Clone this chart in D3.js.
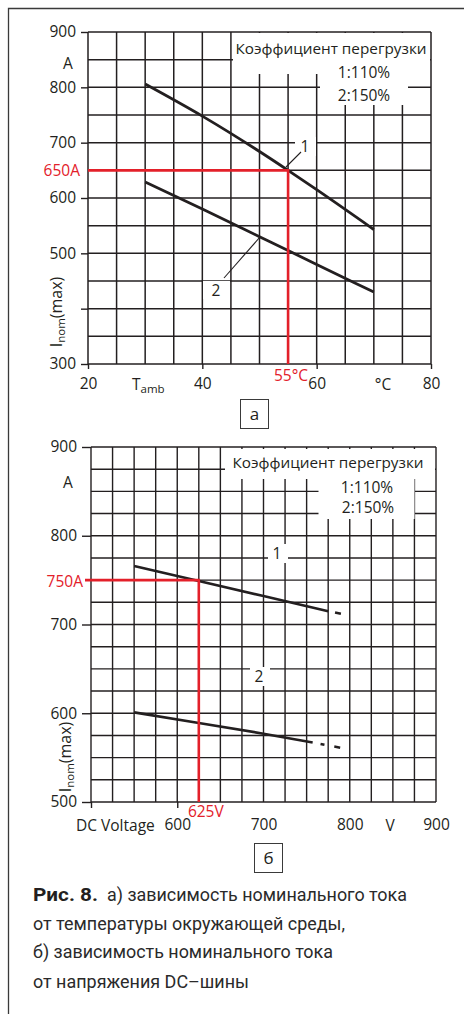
<!DOCTYPE html>
<html>
<head>
<meta charset="utf-8">
<script src="https://cdn.jsdelivr.net/npm/d3@7"></script>
<style>
  body { margin: 0; background: #fff; }
  text { font-family: "Open Sans", sans-serif; fill: #231f20; }
</style>
</head>
<body>
<div id="chart"></div>
<script>
// --- график а: ток от температуры ---
const tempTicks = [20, 40, 60, 80];
const currentTicksA = [900, 800, 700, 600, 500, 400, 300];
const tempX = [30, 40, 50, 55, 60, 70];
const curveA1 = [806, 748, 684, 650, 615, 543]; // 1:110%
const curveA2 = [629, 580, 530, 505, 480, 430]; // 2:150%
const markTemp = 55;
const markCurrentA = 650;

// --- график б: ток от напряжения DC ---
const voltTicks = [600, 700, 800, 900];
const currentTicksB = [900, 800, 700, 600, 500];
const voltX1 = [550, 625, 700, 775];
const curveB1 = [766, 749, 732, 715];
const voltX1Ext = [775, 790];
const curveB1Ext = [715, 712];
const voltX2 = [550, 625, 700, 757];
const curveB2 = [601, 589, 577, 567];
const voltX2Ext = [757, 790];
const curveB2Ext = [567, 561];
const markVolt = 625;
const markCurrentB = 750;

const red = "#e3202a";
const ink = "#231f20";
const fs = 15.5;

const svg = d3.select("#chart")
  .append("svg")
  .attr("width", 464)
  .attr("height", 1014);

// рамка
svg.append("path")
  .attr("d", "M8.5,1014V8.5H464")
  .attr("fill", "none")
  .attr("stroke", "#3a3a3a")
  .attr("stroke-width", 1.3);

const xA = d3.scaleLinear().domain([20, 80]).range([88, 431]);
const yA = d3.scaleLinear().domain([300, 900]).range([364, 32]);
const xB = d3.scaleLinear().domain([500, 900]).range([91, 436]);
const yB = d3.scaleLinear().domain([500, 900]).range([802, 447]);

// сетка
function drawGrid(g, x, y, xs, ys, w) {
  g.selectAll(".vg").data(xs).enter().append("line")
    .attr("x1", d => x(d)).attr("x2", d => x(d))
    .attr("y1", y.range()[0]).attr("y2", y.range()[1])
    .attr("stroke", ink).attr("stroke-width", w);
  g.selectAll(".hg").data(ys).enter().append("line")
    .attr("x1", x.range()[0]).attr("x2", x.range()[1])
    .attr("y1", d => y(d)).attr("y2", d => y(d))
    .attr("stroke", ink).attr("stroke-width", w);
}

function styleAxis(g) {
  g.select(".domain").remove();
  g.selectAll("line").attr("stroke", ink).attr("stroke-width", 1.4);
  g.selectAll("text")
    .attr("font-family", "Open Sans, sans-serif")
    .attr("font-size", fs)
    .attr("fill", ink);
}

const gA = svg.append("g");
drawGrid(gA, xA, yA, d3.range(20, 81, 5), d3.range(300, 901, 50), 1.5);

gA.append("g")
  .attr("transform", `translate(${xA(20)},0)`)
  .call(d3.axisLeft(yA).tickValues(currentTicksA).tickSize(7).tickPadding(5)
    .tickFormat(d => d === 400 ? "" : d))
  .call(styleAxis);

gA.append("g")
  .attr("transform", `translate(0,${yA(300)})`)
  .call(d3.axisBottom(xA).tickValues(tempTicks).tickSize(5).tickPadding(9))
  .call(styleAxis);

const gB = svg.append("g");
drawGrid(gB, xB, yB, d3.range(500, 901, 25), d3.range(500, 901, 25), 1.4);

gB.append("g")
  .attr("transform", `translate(${xB(500)},0)`)
  .call(d3.axisLeft(yB).tickValues(currentTicksB).tickSize(9).tickPadding(5))
  .call(styleAxis);

gB.append("g")
  .attr("transform", `translate(0,${yB(500)})`)
  .call(d3.axisBottom(xB).tickValues([500, 600]).tickSize(6).tickFormat(""))
  .call(styleAxis);

gB.append("g")
  .attr("transform", `translate(0,${yB(500)})`)
  .call(d3.axisBottom(xB).tickValues(voltTicks).tickSize(0).tickPadding(17))
  .call(styleAxis);

// белые подложки под легендой и метками
const masks = [
  [233, 33, 197, 41], [320, 74, 88, 31],
  [295, 137, 21, 19], [203, 281, 27, 18],
  [225, 449, 210, 30], [318.5, 479, 96, 40],
  [268, 544, 20, 19], [250, 667, 20, 19]
];
svg.selectAll(".mask").data(masks).enter().append("rect")
  .attr("x", d => d[0]).attr("y", d => d[1])
  .attr("width", d => d[2]).attr("height", d => d[3])
  .attr("fill", "#fff");

// кривые
const lineA = d3.line().x(d => xA(d[0])).y(d => yA(d[1])).curve(d3.curveMonotoneX);
const lineB = d3.line().x(d => xB(d[0])).y(d => yB(d[1]));

[curveA1, curveA2].forEach(c => {
  svg.append("path")
    .attr("d", lineA(tempX.map((t, i) => [t, c[i]])))
    .attr("fill", "none").attr("stroke", ink).attr("stroke-width", 2.8);
});

[[voltX1, curveB1], [voltX2, curveB2]].forEach(([xs, c]) => {
  svg.append("path")
    .attr("d", lineB(xs.map((v, i) => [v, c[i]])))
    .attr("fill", "none").attr("stroke", ink).attr("stroke-width", 2.6);
});
svg.append("path")
  .attr("d", lineB(voltX1Ext.map((v, i) => [v, curveB1Ext[i]])))
  .attr("fill", "none").attr("stroke", ink).attr("stroke-width", 2.6)
  .attr("stroke-dasharray", "0,7,6,20");
svg.append("path")
  .attr("d", lineB(voltX2Ext.map((v, i) => [v, curveB2Ext[i]])))
  .attr("fill", "none").attr("stroke", ink).attr("stroke-width", 2.6)
  .attr("stroke-dasharray", "0,8,4,10,6,20");

// выноски 1 и 2 на графике а
svg.append("line").attr("x1", 286).attr("y1", 167).attr("x2", 301).attr("y2", 152)
  .attr("stroke", ink).attr("stroke-width", 1.1);
svg.append("line").attr("x1", 260).attr("y1", 237).attr("x2", 224).attr("y2", 278)
  .attr("stroke", ink).attr("stroke-width", 1.1);

// красные отметки
svg.append("path")
  .attr("d", `M${xA(20)},${yA(markCurrentA)}H${xA(markTemp)}V${yA(300)}`)
  .attr("fill", "none").attr("stroke", red).attr("stroke-width", 2.6);
svg.append("path")
  .attr("d", `M${xB(500) - 6},${yB(markCurrentB)}H${xB(markVolt)}V${yB(500)}`)
  .attr("fill", "none").attr("stroke", red).attr("stroke-width", 2.6);

function label(x, y, txt, opts = {}) {
  const t = svg.append("text")
    .attr("x", x).attr("y", y)
    .attr("font-size", opts.size || fs)
    .attr("text-anchor", opts.anchor || "middle")
    .attr("dominant-baseline", "central")
    .text(txt);
  if (opts.color) t.style("fill", opts.color);
  return t;
}

// подписи графика а
label(331, 48, "Коэффициент перегрузки", { size: 15.3 });
label(364, 72, "1:110%", { size: 15.5 });
label(364, 95, "2:150%", { size: 15.5 });
label(68, 63, "A");
label(305, 146, "1");
label(216, 290, "2");
label(80, yA(markCurrentA), "650A", { anchor: "end", color: red });
label(xA(markTemp) + 3, 375, "55°C", { color: red });
label(383, 384, "°C");
const tAmb = label(132, 384, "T", { anchor: "start" });
tAmb.append("tspan").attr("font-size", 11.5).attr("dy", 4).text("amb");

// подписи графика б
label(328, 462, "Коэффициент перегрузки", { size: 15.3 });
label(367, 487, "1:110%", { size: 15.5 });
label(368, 507, "2:150%", { size: 15.5 });
label(68, 482, "A");
label(277, 553, "1");
label(259, 676, "2");
label(83, yB(markCurrentB) + 1, "750A", { anchor: "end", color: red });
label(xB(markVolt) + 7, 811, "625V", { color: red });
label(76, 825, "DC Voltage", { anchor: "start" });
label(390, 825, "V");

// ось Y: Inom(max)
function yTitle(x, y) {
  const t = svg.append("text")
    .attr("transform", `translate(${x},${y}) rotate(-90)`)
    .attr("font-size", 16)
    .attr("text-anchor", "middle")
    .attr("dominant-baseline", "central");
  t.append("tspan").text("I");
  t.append("tspan").attr("font-size", 11.5).attr("dy", 4).text("nom");
  t.append("tspan").attr("dy", -4).text("(max)");
}
yTitle(56, 312);
yTitle(65, 757);

// рамки с буквами а, б
[[240, 399, "а"], [254, 843, "б"]].forEach(([x, y, s]) => {
  svg.append("rect").attr("x", x + 0.5).attr("y", y + 0.5)
    .attr("width", 28).attr("height", 29)
    .attr("fill", "#fff").attr("stroke", "#3a3a3a").attr("stroke-width", 1);
  label(x + 14.5, y + 14, s, { size: 17 });
});

// подпись к рисунку
const cap = svg.append("g");
cap.append("text").attr("x", 33).attr("y", 901).attr("font-size", 19)
  .attr("font-weight", "bold").attr("textLength", 65).attr("lengthAdjust", "spacingAndGlyphs")
  .style("font-family", "Roboto, sans-serif").text("Рис. 8.");
const capLines = [
  [107, 901, 300, "а) зависимость номинального тока"],
  [33, 930, 312, "от температуры окружающей среды,"],
  [33, 958, 300, "б) зависимость номинального тока"],
  [33, 988, 216, "от напряжения DC–шины"]
];
capLines.forEach(([x, y, w, s]) => {
  cap.append("text").attr("x", x).attr("y", y).attr("font-size", 19)
    .attr("textLength", w).attr("lengthAdjust", "spacingAndGlyphs")
    .style("font-family", "Roboto, sans-serif").style("fill", "#2a2a2a").text(s);
});
</script>
</body>
</html>
